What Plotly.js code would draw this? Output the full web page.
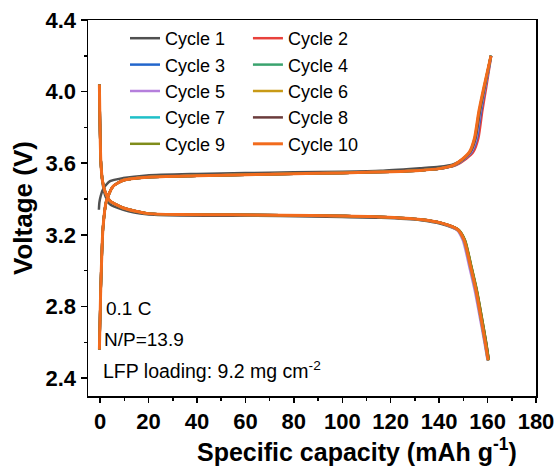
<!DOCTYPE html>
<html>
<head>
<meta charset="utf-8">
<script src="https://cdn.plot.ly/plotly-3.0.1.min.js"></script>
<style>html,body{margin:0;padding:0;background:#fff}#chart{width:560px;height:468px}</style>
</head>
<body>
<div id="chart"></div>
<script>
// ---- Data ----
const cycleNames = ['Cycle 1','Cycle 2','Cycle 3','Cycle 4','Cycle 5','Cycle 6','Cycle 7','Cycle 8','Cycle 9','Cycle 10'];
const cycleColors = ['#505050','#e8413c','#2266cc','#3aa36e','#b57fdc','#c89a16','#1fc0c8','#6b3c3c','#7f8c1a','#f26b1d'];

// Cycle 1 (fresh cell)
const cycle1ChargeCap = [-0.5, -0.3, 0.3, 1.4, 4.1, 9.6, 19.3, 40, 60, 80, 100, 116, 132, 140, 146, 150, 153, 155, 157, 159, 161.3];
const cycle1ChargeV   = [3.34, 3.38, 3.42, 3.46, 3.50, 3.517, 3.532, 3.540, 3.545, 3.550, 3.553, 3.558, 3.572, 3.580, 3.595, 3.625, 3.665, 3.740, 3.890, 4.020, 4.200];
const cycle1DischargeCap = [-0.3, -0.1, 0.3, 1.0, 2.1, 4.1, 9.6, 19.3, 33, 54, 74.5, 100, 116, 132.4, 140.7, 147.7, 150.4, 153.1, 155.4, 157.4, 159.3, 160.5];
const cycle1DischargeV   = [4.04, 3.85, 3.61, 3.49, 3.42, 3.37, 3.34, 3.315, 3.308, 3.307, 3.305, 3.300, 3.295, 3.282, 3.262, 3.225, 3.170, 3.020, 2.890, 2.740, 2.600, 2.500];

// Cycles 2-10 voltage points (shared), capacity per cycle
const chargeV    = [2.56, 2.87, 3.24, 3.39, 3.47, 3.505, 3.522, 3.530, 3.536, 3.541, 3.546, 3.553, 3.560, 3.570, 3.590, 3.625, 3.665, 3.740, 3.890, 4.020, 4.200];
const dischargeV = [4.04, 3.85, 3.61, 3.50, 3.44, 3.39, 3.35, 3.32, 3.313, 3.312, 3.310, 3.305, 3.300, 3.286, 3.267, 3.230, 3.170, 3.020, 2.890, 2.740, 2.600, 2.500];

const cycle2ChargeCap  = [-0.3, 0.2, 1.2, 2.6, 5.3, 9.6, 19.3, 40, 60, 80, 100, 120, 132, 140.5, 147.0, 151.2, 154.2, 156.2, 157.8, 159.4, 161.5];
const cycle3ChargeCap  = [-0.3, 0.2, 1.2, 2.6, 5.3, 9.6, 19.3, 40, 60, 80, 100, 120, 132, 140.3, 146.6, 150.6, 153.5, 155.6, 157.3, 159.0, 161.5];
const cycle4ChargeCap  = [-0.3, 0.2, 1.2, 2.6, 5.3, 9.6, 19.3, 40, 60, 80, 100, 120, 132, 140.2, 146.4, 150.3, 153.1, 155.1, 156.9, 158.8, 161.4];
const cycle5ChargeCap  = [-0.3, 0.2, 1.2, 2.6, 5.3, 9.6, 19.3, 40, 60, 80, 100, 120, 132, 140.3, 146.5, 150.4, 153.3, 155.3, 157.0, 158.9, 161.4];
const cycle6ChargeCap  = [-0.3, 0.2, 1.2, 2.6, 5.3, 9.6, 19.3, 40, 60, 80, 100, 120, 132, 140.0, 146.1, 150.0, 152.8, 154.8, 156.6, 158.5, 161.4];
const cycle7ChargeCap  = [-0.3, 0.2, 1.2, 2.6, 5.3, 9.6, 19.3, 40, 60, 80, 100, 120, 132, 140.1, 146.2, 150.1, 152.9, 154.9, 156.7, 158.6, 161.4];
const cycle8ChargeCap  = [-0.3, 0.2, 1.2, 2.6, 5.3, 9.6, 19.3, 40, 60, 80, 100, 120, 132, 140.2, 146.3, 150.2, 153.0, 155.0, 156.8, 158.7, 161.4];
const cycle9ChargeCap  = [-0.3, 0.2, 1.2, 2.6, 5.3, 9.6, 19.3, 40, 60, 80, 100, 120, 132, 140.0, 146.0, 149.9, 152.7, 154.7, 156.5, 158.5, 161.4];
const cycle10ChargeCap = [-0.3, 0.2, 1.2, 2.6, 5.3, 9.6, 19.3, 40, 60, 80, 100, 120, 132, 140.0, 146.0, 149.8, 152.6, 154.6, 156.4, 158.4, 161.4];

const cycle2DischargeCap  = [-0.3, -0.1, 0.3, 1.0, 2.1, 4.1, 9.6, 19.3, 33, 54, 74.5, 100, 116, 132.4, 140.7, 147.7, 150.4, 153.1, 155.3, 157.3, 159.1, 160.3];
const cycle3DischargeCap  = [-0.3, -0.1, 0.3, 1.0, 2.1, 4.1, 9.6, 19.3, 33, 54, 74.5, 100, 116, 132.4, 140.7, 147.6, 150.3, 153.1, 155.3, 157.3, 159.1, 160.3];
const cycle4DischargeCap  = [-0.3, -0.1, 0.3, 1.0, 2.1, 4.1, 9.6, 19.3, 33, 54, 74.5, 100, 116, 132.4, 140.7, 147.8, 150.6, 153.3, 155.5, 157.5, 159.3, 160.4];
const cycle5DischargeCap  = [-0.3, -0.1, 0.3, 1.0, 2.1, 4.1, 9.6, 19.3, 33, 54, 74.5, 100, 116, 132.4, 140.7, 147.2, 149.8, 152.5, 154.7, 156.8, 158.7, 160.0];
const cycle6DischargeCap  = [-0.3, -0.1, 0.3, 1.0, 2.1, 4.1, 9.6, 19.3, 33, 54, 74.5, 100, 116, 132.4, 140.7, 147.7, 150.5, 153.2, 155.4, 157.4, 159.2, 160.3];
const cycle7DischargeCap  = [-0.3, -0.1, 0.3, 1.0, 2.1, 4.1, 9.6, 19.3, 33, 54, 74.5, 100, 116, 132.4, 140.7, 147.5, 150.2, 152.9, 155.1, 157.1, 158.9, 160.1];
const cycle8DischargeCap  = [-0.3, -0.1, 0.3, 1.0, 2.1, 4.1, 9.6, 19.3, 33, 54, 74.5, 100, 116, 132.4, 140.7, 147.8, 150.6, 153.3, 155.5, 157.6, 159.4, 160.5];
const cycle9DischargeCap  = [-0.3, -0.1, 0.3, 1.0, 2.1, 4.1, 9.6, 19.3, 33, 54, 74.5, 100, 116, 132.4, 140.7, 147.9, 150.7, 153.4, 155.6, 157.6, 159.4, 160.5];
const cycle10DischargeCap = [-0.3, -0.1, 0.3, 1.0, 2.1, 4.1, 9.6, 19.3, 33, 54, 74.5, 100, 116, 132.4, 140.7, 147.6, 150.3, 153.0, 155.2, 157.2, 159.0, 160.2];

// Axis ticks and titles
const xTickVals = [0, 20, 40, 60, 80, 100, 120, 140, 160, 180];
const xTickText = ['0', '20', '40', '60', '80', '100', '120', '140', '160', '180'];
const xMinorVals = [10, 30, 50, 70, 90, 110, 130, 150, 170];
const yTickVals = [2.4, 2.8, 3.2, 3.6, 4.0, 4.4];
const yTickText = ['2.4', '2.8', '3.2', '3.6', '4.0', '4.4'];
const yMinorVals = [2.6, 3.0, 3.4, 3.8, 4.2];
const xTitle = 'Specific capacity (mAh g<sup>-1</sup>)';
const yTitle = 'Voltage (V)';

// Annotation texts
const noteTexts = ['0.1 C', 'N/P=13.9', 'LFP loading: 9.2 mg cm<sup>-2</sup>'];

// ---- Build traces ----
const chargeCaps = [cycle1ChargeCap, cycle2ChargeCap, cycle3ChargeCap, cycle4ChargeCap, cycle5ChargeCap,
                    cycle6ChargeCap, cycle7ChargeCap, cycle8ChargeCap, cycle9ChargeCap, cycle10ChargeCap];
const chargeVs = [cycle1ChargeV, chargeV, chargeV, chargeV, chargeV, chargeV, chargeV, chargeV, chargeV, chargeV];
const dischargeCaps = [cycle1DischargeCap, cycle2DischargeCap, cycle3DischargeCap, cycle4DischargeCap, cycle5DischargeCap,
                       cycle6DischargeCap, cycle7DischargeCap, cycle8DischargeCap, cycle9DischargeCap, cycle10DischargeCap];
const dischargeVs = [cycle1DischargeV, dischargeV, dischargeV, dischargeV, dischargeV, dischargeV, dischargeV, dischargeV, dischargeV, dischargeV];

const traces = [];
cycleNames.forEach((name, i) => {
  const leg = (i % 2 === 0) ? 'legend' : 'legend2';
  const lw = (i === 9) ? 3 : 2.5;
  traces.push({
    type: 'scatter', mode: 'lines', name: name, legendgroup: name, legend: leg, showlegend: true,
    x: chargeCaps[i], y: chargeVs[i], line: {color: cycleColors[i], width: lw, shape: 'spline', smoothing: 0.6},
    hoverinfo: 'skip'
  });
  traces.push({
    type: 'scatter', mode: 'lines', name: name, legendgroup: name, legend: leg, showlegend: false,
    x: dischargeCaps[i], y: dischargeVs[i], line: {color: cycleColors[i], width: lw, shape: 'spline', smoothing: 0.6},
    hoverinfo: 'skip'
  });
});

const FONT = 'Arial, "Liberation Sans", sans-serif';
const legendCommon = {
  xanchor: 'left', yanchor: 'top', bgcolor: 'rgba(0,0,0,0)', borderwidth: 0,
  font: {family: FONT, size: 18, color: '#000'}, tracegroupgap: 0, itemwidth: 30, traceorder: 'normal'
};

const layout = {
  width: 560, height: 468,
  margin: {l: 88, r: 24, t: 20, b: 72, pad: 0},
  paper_bgcolor: '#ffffff', plot_bgcolor: '#ffffff',
  font: {family: FONT, color: '#000'},
  showlegend: true,
  legend: Object.assign({}, legendCommon, {x: 0.0826, y: 1.0}),
  legend2: Object.assign({}, legendCommon, {x: 0.357, y: 1.0}),
  xaxis: {
    range: [-5, 180], tickmode: 'array', tickvals: xTickVals, ticktext: xTickText,
    ticks: 'outside', ticklen: 5, tickwidth: 1.5, tickcolor: '#000',
    minor: {tickmode: 'array', tickvals: xMinorVals, ticks: 'outside', ticklen: 3, tickwidth: 1.5, tickcolor: '#000', showgrid: false},
    showline: true, linecolor: '#000', linewidth: 1.5, mirror: true,
    showgrid: false, zeroline: false,
    tickfont: {family: FONT, size: 22, weight: 700, color: '#000'},
    automargin: false
  },
  yaxis: {
    range: [2.3, 4.4], tickmode: 'array', tickvals: yTickVals, ticktext: yTickText,
    ticks: 'outside', ticklen: 6, tickwidth: 1.5, tickcolor: '#000',
    minor: {tickmode: 'array', tickvals: yMinorVals, ticks: 'outside', ticklen: 3, tickwidth: 1.5, tickcolor: '#000', showgrid: false},
    showline: true, linecolor: '#000', linewidth: 1.5, mirror: true,
    showgrid: false, zeroline: false,
    tickfont: {family: FONT, size: 22, weight: 700, color: '#000'},
    title: {text: yTitle, font: {family: FONT, size: 26, weight: 700, color: '#000'}, standoff: 5},
    automargin: false
  },
  annotations: [
    {text: xTitle, xref: 'paper', yref: 'paper', x: 0.600, y: -0.143, xanchor: 'center', yanchor: 'middle', showarrow: false, font: {family: FONT, size: 25, weight: 700, color: '#000'}},
    {text: noteTexts[0], xref: 'paper', yref: 'paper', x: 0.036, y: 0.234, xanchor: 'left', yanchor: 'middle', showarrow: false, font: {family: FONT, size: 19, color: '#000'}},
    {text: noteTexts[1], xref: 'paper', yref: 'paper', x: 0.031, y: 0.151, xanchor: 'left', yanchor: 'middle', showarrow: false, font: {family: FONT, size: 19, color: '#000'}},
    {text: noteTexts[2], xref: 'paper', yref: 'paper', x: 0.029, y: 0.069, xanchor: 'left', yanchor: 'middle', showarrow: false, font: {family: FONT, size: 19.5, color: '#000'}}
  ]
};

Plotly.newPlot('chart', traces, layout, {staticPlot: true, displayModeBar: false});
</script>
</body>
</html>
